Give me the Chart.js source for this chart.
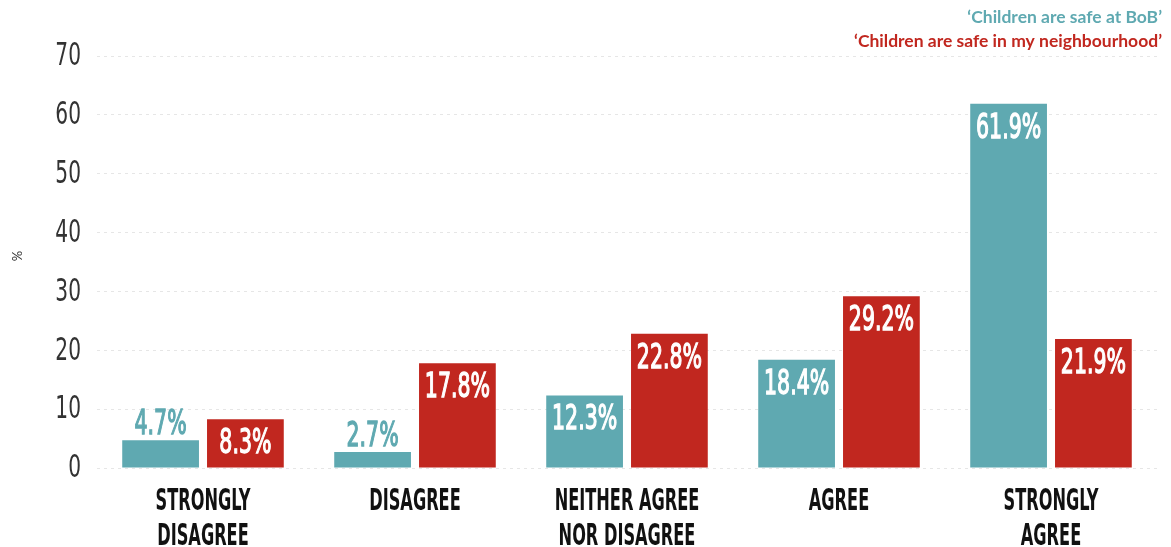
<!DOCTYPE html>
<html>
<head>
<meta charset="utf-8">
<script src="https://cdn.jsdelivr.net/npm/chart.js@4"></script>
<style>
  html, body { margin: 0; padding: 0; background: #fff; }
  #wrap { width: 1171px; height: 547px; }
</style>
</head>
<body>
<div id="wrap"><canvas id="safetyChart" width="1171" height="547"></canvas></div>
<script>
var categories = [['STRONGLY', 'DISAGREE'], ['DISAGREE'], ['NEITHER AGREE', 'NOR DISAGREE'], ['AGREE'], ['STRONGLY', 'AGREE']];
var bobValues = [4.7, 2.7, 12.3, 18.4, 61.9];
var neighbourhoodValues = [8.3, 17.8, 22.8, 29.2, 21.9];
var seriesNames = ['\u2018Children are safe at BoB\u2019', '\u2018Children are safe in my neighbourhood\u2019'];
var yTicks = [0, 10, 20, 30, 40, 50, 60, 70];

var TEAL = '#5fa9b1';
var RED = '#c1271f';
var NARROW = "'DejaVu Sans Condensed', 'DejaVu Sans', sans-serif";

// draw text squeezed horizontally to get a tall condensed look
function condensedText(ctx, text, x, y, squeeze, stroke) {
    ctx.save();
    ctx.translate(x, y);
    ctx.scale(squeeze, 1);
    ctx.fillText(text, 0, 0);
    if (stroke) {
        ctx.lineWidth = stroke;
        ctx.strokeStyle = ctx.fillStyle;
        ctx.strokeText(text, 0, 0);
    }
    ctx.restore();
}

var labelPlugin = {
    id: 'labelPlugin',
    afterDatasetsDraw: function (chart) {
        var ctx = chart.ctx;
        ctx.save();
        ctx.textAlign = 'center';
        ctx.textBaseline = 'middle';
        ctx.font = '34px ' + NARROW;
        chart.data.datasets.forEach(function (ds, di) {
            var meta = chart.getDatasetMeta(di);
            meta.data.forEach(function (bar, i) {
                var h = bar.base - bar.y;
                var txt = ds.data[i].toFixed(1) + '%';
                if (h > 40) {
                    ctx.fillStyle = '#ffffff';
                    condensedText(ctx, txt, bar.x, bar.y + 25, 0.67, 1.3);
                } else {
                    ctx.fillStyle = ds.backgroundColor;
                    condensedText(ctx, txt, bar.x, bar.y - 15, 0.67, 1.3);
                }
            });
        });
        ctx.restore();
    },
    afterDraw: function (chart) {
        var ctx = chart.ctx;
        var xs = chart.scales.x;
        var ys = chart.scales.y;
        ctx.save();
        // y tick labels
        ctx.fillStyle = '#333';
        ctx.textAlign = 'right';
        ctx.textBaseline = 'middle';
        ctx.font = '200 32px ' + NARROW;
        yTicks.forEach(function (v) {
            condensedText(ctx, String(v), 81, ys.getPixelForValue(v) + 1, 0.7);
        });
        // category labels
        ctx.fillStyle = '#111';
        ctx.textAlign = 'center';
        ctx.font = 'bold 31px ' + NARROW;
        categories.forEach(function (lines, i) {
            var cx = xs.getPixelForTick(i);
            lines.forEach(function (line, li) {
                condensedText(ctx, line, cx, 502 + li * 35, 0.58);
            });
        });
        // series names, top right
        ctx.textAlign = 'right';
        ctx.font = 'bold 17.5px Lato, sans-serif';
        ctx.fillStyle = TEAL;
        ctx.fillText(seriesNames[0], 1162, 17);
        ctx.fillStyle = RED;
        ctx.fillText(seriesNames[1], 1162, 41);
        // axis unit
        ctx.fillStyle = '#333';
        ctx.font = '13px Lato, sans-serif';
        ctx.translate(18, 256);
        ctx.rotate(-Math.PI / 2);
        ctx.textAlign = 'center';
        ctx.fillText('%', 0, 0);
        ctx.restore();
    }
};

new Chart(document.getElementById('safetyChart').getContext('2d'), {
    type: 'bar',
    data: {
        labels: categories.map(function (c) { return c.join(' '); }),
        datasets: [{
            label: seriesNames[0],
            data: bobValues,
            backgroundColor: TEAL
        }, {
            label: seriesNames[1],
            data: neighbourhoodValues,
            backgroundColor: RED
        }]
    },
    options: {
        responsive: false,
        animation: false,
        devicePixelRatio: 1,
        layout: { padding: { top: 56, right: 14, left: 0, bottom: 0 } },
        datasets: {
            bar: { categoryPercentage: 0.8, barPercentage: 0.905 }
        },
        plugins: {
            legend: { display: false },
            tooltip: { enabled: false }
        },
        scales: {
            x: {
                grid: { display: false },
                border: { display: false },
                ticks: { display: false },
                afterFit: function (s) { s.height = 79; }
            },
            y: {
                min: 0,
                max: 70,
                afterBuildTicks: function (s) { s.ticks = yTicks.map(function (v) { return { value: v }; }); },
                ticks: { display: false },
                grid: { color: '#e6e6e6', drawTicks: false, lineWidth: 1 },
                border: { display: false, dash: [3, 4] },
                afterFit: function (s) { s.width = 97; }
            }
        }
    },
    plugins: [labelPlugin]
});
</script>
</body>
</html>
